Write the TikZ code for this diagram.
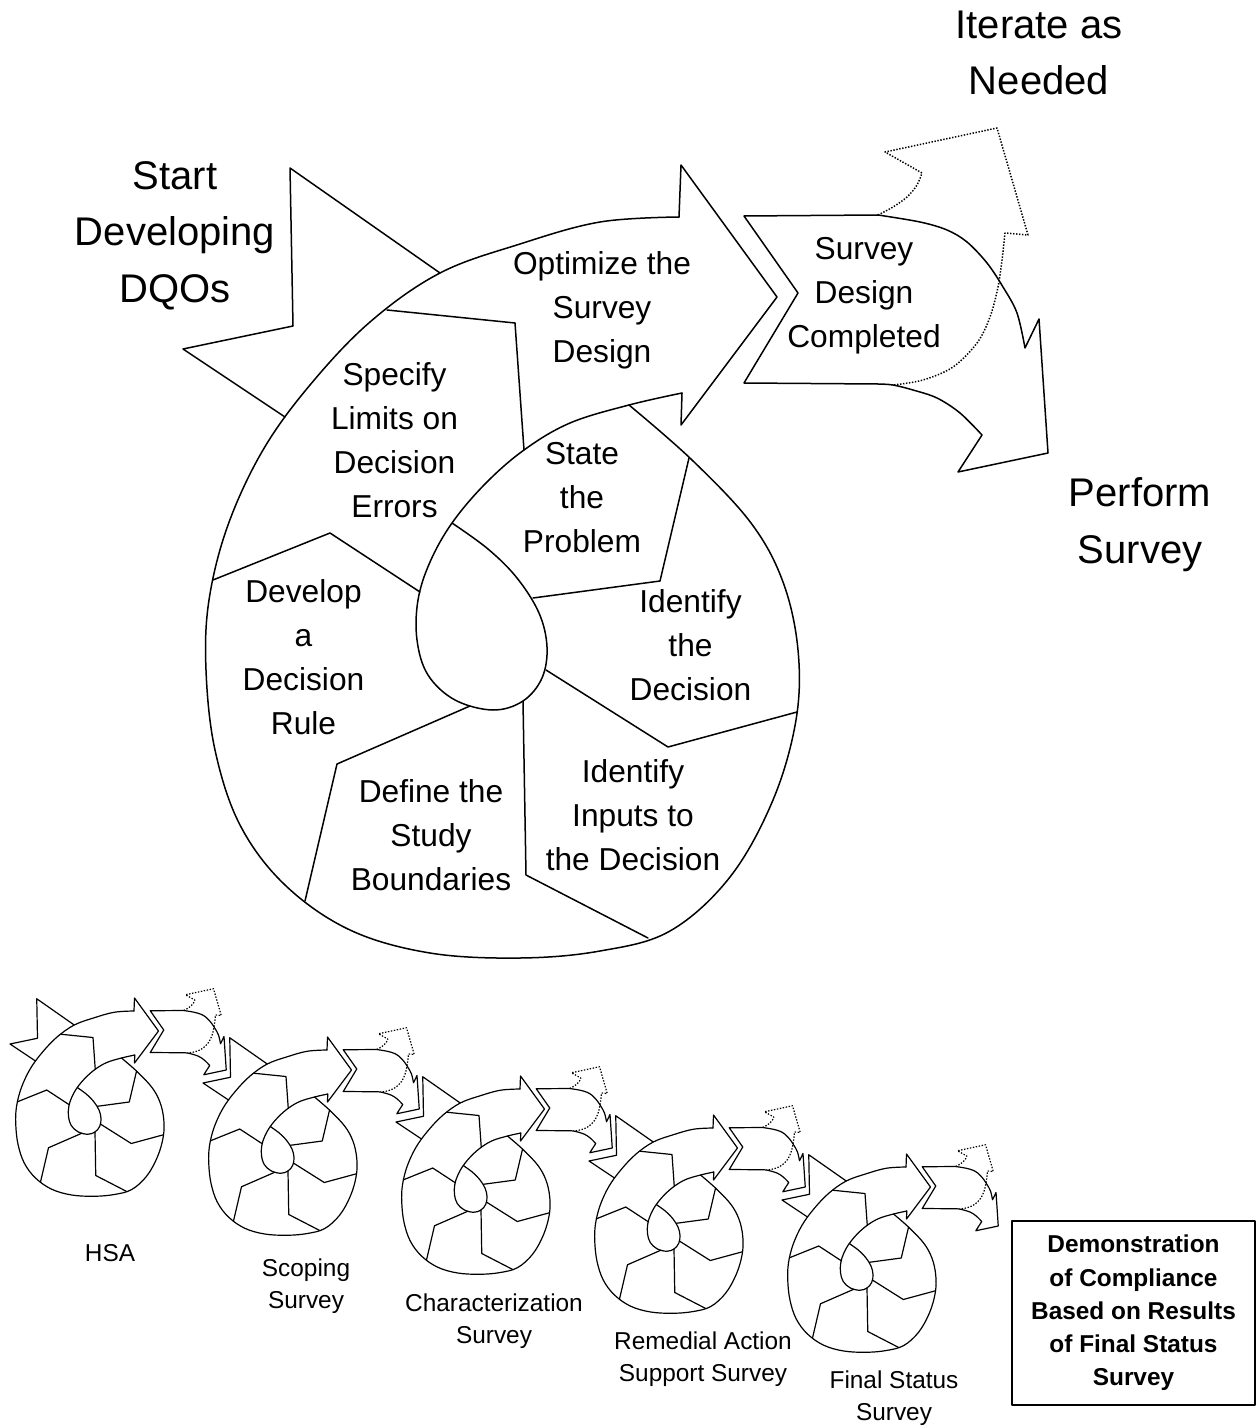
\documentclass[tikz,border=0pt]{standalone}
\usepackage{fontspec}
\setmainfont{Liberation Sans}
\begin{document}
\begin{tikzpicture}[x=0.5pt,y=-0.5pt, line join=round, line cap=round,
  dotline/.style={line cap=butt, dash pattern=on 0.7pt off 0.8pt},
  pics/spiral/.style={code={
    % start arrow
    \draw (285,417) -- (183,349) -- (293,326) -- (290,168) -- (440,273);
    % outer curve
    \draw plot[smooth, tension=0.6] coordinates {(679,217) (600,222) (520,244) (440,273) (370,322) (310,385) (263,450) (228,525) (209,600) (206,670) (215,750) (240,825) (285,885) (350,930) (430,953) (520,958) (600,951) (670,931) (730,877) (773,800) (796,720) (798,650) (783,582) (751,523) (692,460) (629,405)};
    % optimize arrow head
    \draw (679,217) -- (681,165) -- (777,297) -- (681,425) -- (682,393);
    % inner curve and drop
    \draw plot[smooth, tension=0.6] coordinates {(682,393) (629,405) (570,423) (524,450) (485,484) (452,523) (430,562) (418,600) (417,640) (428,675) (455,700) (493,710) (523,701) (542,678) (547,647) (539,613) (517,578) (488,549) (452,523)};
    % segment dividers
    \draw (387,310) -- (515,323) -- (524,450);
    \draw (213,580) -- (330,533) -- (420,592);
    \draw (470,706) -- (337,764) -- (305,901);
    \draw (523,701) -- (526,875) -- (648,938);
    \draw (546,670) -- (668,747) -- (797,712);
    \draw (533,598) -- (660,581) -- (689,458);
    % survey design completed / perform survey arrow
    \draw (878,215) -- (744,216) -- (798,293) -- (744,383) -- (878,384)
      -- plot[smooth, tension=0.55] coordinates {(878,384) (893,385) (913,390) (937,398) (960,413) (982,435)}
      -- (958,472) -- (1048,453) -- (1039,319) -- (1025,348)
      -- plot[smooth, tension=0.55] coordinates {(1025,348) (1017,313) (1003,287) (987,263) (967,242) (947,230) (920,222) (878,215)};
    % iterate arrow (dotted)
    \draw[dotline] plot[smooth, tension=0.55] coordinates {(878,215) (893,207) (907,197) (917,185) (922,173)}
      -- (885,152) -- (997,128) -- (1028,235) -- (1005,233)
      -- plot[smooth, tension=0.55] coordinates {(1005,233) (1002,260) (998,287) (990,317) (977,343) (953,367) (923,380) (893,385)};
  }},
  bigtxt/.style={font=\fontsize{20}{28.25}\selectfont, align=center, inner sep=0pt},
  midtxt/.style={font=\fontsize{15.85}{22}\selectfont, align=center, inner sep=0pt},
  smalltxt/.style={font=\fontsize{12.2}{16}\selectfont, align=center, inner sep=0pt}
]
\path[use as bounding box, fill=white] (0,0) rectangle (1257,1428);

% big spiral
\pic[line width=0.75pt] {spiral};

% small spirals
\foreach \i in {0,...,4} {
  \pic[shift={({-35.75+193*\i},{956.75+39*\i})}, scale=0.25, line width=0.6pt] {spiral};
}

% big labels
\node[bigtxt] (iter) at (1039,52.7) {Iterate as\\Needed};
\node[bigtxt] (start) at (175,235.5) {Start\\Developing\\DQOs};
\node[bigtxt] (perf) at (1140,524.7) {Perform\\Survey};

% step labels
\node[midtxt] (opt) at (602,310.6) {Optimize the\\Survey\\Design};
\node[midtxt] (sdc) at (864,295.8) {Survey\\Design\\Completed};
\node[midtxt] (spec) at (394.5,440.3) {Specify\\Limits on\\Decision\\Errors};
\node[midtxt] (state) at (582,498) {State\\the\\Problem};
\node[midtxt] (dev) at (303.5,657.3) {Develop\\a\\Decision\\Rule};
\node[midtxt] (idd) at (690.5,645.3) {Identify\\the\\Decision};
\node[midtxt] (idi) at (633,815.3) {Identify\\Inputs to\\the Decision};
\node[midtxt] (def) at (431,834.8) {Define the\\Study\\Boundaries};

% survey labels
\node[smalltxt] (hsa) at (110,1253) {HSA};
\node[smalltxt] (scop) at (306,1286) {Scoping\\Survey};
\node[smalltxt] (char) at (494,1321) {Characterization\\Survey};
\node[smalltxt] (rem) at (703,1359.6) {Remedial Action\\Support Survey};
\node[smalltxt] (fin) at (894,1398.6) {Final Status\\Survey};

% result box
\node[draw, line width=0.75pt, minimum width=121.5pt, minimum height=92pt, inner sep=0pt, align=center,
  font=\bfseries\fontsize{12.2}{16.6}\selectfont] (demo) at (1133.5,1313)
  {Demonstration\\of Compliance\\Based on Results\\of Final Status\\Survey};
\end{tikzpicture}
\end{document}
